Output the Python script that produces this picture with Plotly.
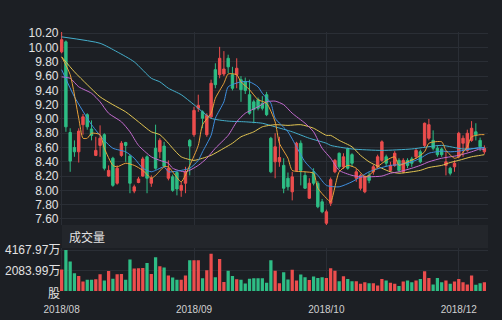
import plotly.graph_objects as go

# ---------------- data ----------------
x_idx = list(range(100))

opens = [9.94, 10.08, 8.81, 8.60, 8.54, 8.92, 9.06, 8.86, 8.49, 8.63,
         8.78, 8.20, 8.45, 8.10, 8.49, 8.67, 8.48, 7.99, 8.11, 8.20,
         8.47, 8.10, 8.59, 8.54, 8.62, 8.17, 8.19, 8.25, 8.00, 8.10,
         8.70, 8.78, 9.15, 9.10, 8.78, 9.03, 9.69, 9.62, 9.63, 9.85,
         9.62, 9.62, 9.55, 9.52, 9.34, 9.24, 9.27, 9.22, 9.34, 8.73,
         8.40, 8.40, 8.35, 8.17, 7.98, 8.28, 8.66, 8.21, 7.89, 8.26,
         8.10, 7.84, 7.54, 7.82, 8.26, 8.52, 8.33, 8.58, 8.50, 8.17,
         8.03, 7.98, 8.21, 8.26, 8.33, 8.42, 8.47, 8.28, 8.35, 8.42,
         8.26, 8.42, 8.44, 8.47, 8.54, 8.63, 8.73, 8.70, 8.59, 8.58,
         8.35, 8.31, 8.33, 8.47, 8.66, 8.56, 8.70, 8.82, 8.70, 8.54]
closes = [10.11, 8.89, 8.41, 8.54, 8.83, 9.03, 8.89, 8.77, 8.56, 8.73,
          8.31, 8.28, 8.07, 8.31, 8.66, 8.63, 8.10, 8.05, 8.16, 8.44,
          8.17, 8.17, 8.31, 8.70, 8.34, 8.31, 8.00, 8.02, 8.07, 8.26,
          8.62, 9.12, 9.19, 9.01, 9.05, 9.50, 9.48, 9.85, 9.70, 9.73,
          9.43, 9.71, 9.41, 9.40, 9.08, 9.13, 9.15, 9.15, 9.06, 8.26,
          8.61, 8.46, 8.03, 8.05, 8.19, 8.66, 8.28, 8.03, 8.10, 8.10,
          7.77, 7.70, 7.70, 8.15, 8.42, 8.33, 8.47, 8.31, 8.38, 8.26,
          8.21, 8.19, 8.14, 8.33, 8.47, 8.68, 8.38, 8.35, 8.52, 8.28,
          8.42, 8.35, 8.38, 8.56, 8.40, 8.94, 8.92, 8.59, 8.50, 8.50,
          8.40, 8.24, 8.38, 8.80, 8.73, 8.80, 8.87, 8.78, 8.61, 8.59]
highs = [10.22, 10.10, 8.87, 8.70, 8.87, 9.07, 9.08, 8.98, 8.75, 8.91,
         8.80, 8.35, 8.47, 8.35, 8.69, 8.68, 8.50, 8.08, 8.19, 8.47,
         8.49, 8.21, 8.92, 8.73, 8.68, 8.42, 8.22, 8.27, 8.12, 8.33,
         8.72, 9.17, 9.34, 9.12, 9.08, 9.55, 9.78, 10.01, 9.95, 9.90,
         9.73, 9.85, 9.60, 9.58, 9.55, 9.27, 9.30, 9.32, 9.38, 8.75,
         8.80, 8.75, 8.45, 8.25, 8.26, 8.68, 8.70, 8.26, 8.17, 8.31,
         8.13, 7.88, 7.73, 8.18, 8.44, 8.53, 8.52, 8.60, 8.52, 8.30,
         8.23, 8.21, 8.25, 8.36, 8.50, 8.70, 8.50, 8.40, 8.55, 8.45,
         8.45, 8.45, 8.47, 8.58, 8.57, 8.95, 9.00, 8.84, 8.62, 8.60,
         8.54, 8.33, 8.42, 8.82, 8.77, 8.85, 8.97, 8.94, 8.74, 8.63]
lows = [9.92, 8.82, 8.26, 8.47, 8.39, 8.78, 8.85, 8.70, 8.48, 8.47,
        8.28, 8.19, 8.05, 8.08, 8.47, 8.40, 7.96, 7.96, 8.10, 8.19,
        7.96, 8.05, 8.29, 8.45, 8.33, 8.14, 7.98, 7.93, 7.91, 7.96,
        8.21, 8.75, 9.10, 8.87, 8.75, 9.00, 9.43, 9.57, 9.60, 9.64,
        9.40, 9.43, 9.24, 9.35, 9.06, 8.94, 9.12, 9.12, 9.04, 8.24,
        8.17, 8.33, 7.96, 8.00, 7.86, 8.26, 8.07, 8.02, 7.88, 8.07,
        7.75, 7.68, 7.51, 7.78, 8.24, 8.30, 8.30, 8.29, 8.33, 8.12,
        8.00, 7.96, 8.10, 8.22, 8.30, 8.40, 8.33, 8.26, 8.33, 8.26,
        8.24, 8.31, 8.33, 8.44, 8.38, 8.60, 8.70, 8.56, 8.47, 8.47,
        8.21, 8.21, 8.26, 8.45, 8.47, 8.54, 8.68, 8.70, 8.55, 8.51]
volumes = [2184, 4168, 3000, 1793, 1532, 978, 1141, 1141, 1206, 1695,
           1076, 2021, 1239, 1695, 1728, 1141, 3195, 2282, 2315, 2347,
           2836, 1728, 3423, 2510, 2380, 1565, 1370, 1141, 1141, 1565,
           3130, 3130, 3130, 1300, 2120, 3780, 1400, 3260, 913, 2054,
           1532, 1206, 1141, 750, 1250, 1300, 1300, 1300, 833, 3130,
           2065, 800, 1900, 1165, 2165, 1066, 1665, 1400, 1130, 1465,
           1332, 1400, 1332, 2300, 2065, 1000, 1500, 1232, 1000, 1000,
           733, 900, 800, 800, 566, 1232, 1066, 833, 733, 500,
           966, 1066, 900, 1066, 1232, 2000, 1332, 666, 1332, 900,
           1066, 733, 966, 1232, 900, 666, 1565, 633, 800, 900]

ma5_x = [0, 2, 4, 5, 6, 7, 9, 10, 12, 13, 15, 17, 19, 21, 22, 24, 25, 26, 28, 30,
         32, 33, 35, 36, 38, 39, 41, 42, 44, 46, 48, 50, 51, 53, 54, 57, 59, 60, 62, 63,
         65, 67, 69, 71, 72, 74, 76, 78, 79, 81, 83, 85, 86, 89, 90, 92, 93, 95, 96, 98, 99]
ma5_y = [9.87, 9.62, 9.01, 8.73, 8.73, 8.80, 8.78, 8.59, 8.35, 8.33, 8.38, 8.35, 8.28, 8.17, 8.21, 8.33, 8.33, 8.26, 8.12, 8.35,
         8.63, 8.92, 9.08, 9.29, 9.50, 9.63, 9.62, 9.52, 9.41, 9.27, 9.22, 8.96, 8.66, 8.45, 8.28, 8.26, 8.24, 8.03, 7.89, 7.84,
         8.26, 8.35, 8.31, 8.19, 8.21, 8.33, 8.42, 8.47, 8.35, 8.40, 8.45, 8.54, 8.66, 8.68, 8.56, 8.45, 8.47, 8.61, 8.75, 8.78, 8.78]

ma10_x = [0, 3, 7, 10, 12, 15, 17, 19, 21, 22, 24, 25, 27, 30, 32, 33, 35, 36, 38, 39,
          42, 44, 46, 47, 49, 50, 53, 55, 57, 60, 62, 65, 68, 70, 72, 75, 77, 79, 82, 84,
          86, 89, 91, 93, 96, 98, 99]
ma10_y = [9.69, 9.31, 8.92, 8.70, 8.59, 8.54, 8.45, 8.31, 8.26, 8.28, 8.33, 8.26, 8.27, 8.31, 8.42, 8.54, 8.77, 9.01, 9.24, 9.45,
          9.52, 9.52, 9.45, 9.36, 9.22, 9.01, 8.82, 8.61, 8.40, 8.21, 8.07, 8.05, 8.12, 8.19, 8.26, 8.32, 8.35, 8.36, 8.40, 8.45,
          8.52, 8.55, 8.54, 8.55, 8.58, 8.60, 8.59]

ma20_x = [0, 2, 4, 7, 9, 11, 14, 16, 18, 21, 23, 25, 26, 29, 32, 34, 36, 39, 41, 43,
          46, 48, 50, 52, 54, 57, 59, 61, 63, 65, 68, 70, 72, 75, 77, 79, 82, 84, 86, 89,
          91, 93, 96, 98, 99]
ma20_y = [9.59, 9.57, 9.45, 9.36, 9.24, 9.08, 8.96, 8.82, 8.63, 8.47, 8.42, 8.38, 8.31, 8.26, 8.35, 8.45, 8.59, 8.77, 8.96, 9.08,
          9.17, 9.24, 9.25, 9.20, 9.08, 8.94, 8.82, 8.59, 8.45, 8.28, 8.21, 8.19, 8.19, 8.20, 8.24, 8.26, 8.31, 8.35, 8.40, 8.45,
          8.47, 8.49, 8.54, 8.58, 8.57]

ma30_x = [0, 3, 6, 9, 12, 15, 18, 21, 23, 25, 26, 28, 31, 33, 35, 38, 40, 42, 45, 47,
          50, 53, 56, 59, 62, 63, 65, 68, 70, 72, 75, 77, 79, 82, 84, 86, 89, 91, 93, 96,
          98, 99]
ma30_y = [9.87, 9.66, 9.48, 9.31, 9.20, 9.10, 8.96, 8.82, 8.78, 8.66, 8.59, 8.47, 8.42, 8.45, 8.49, 8.59, 8.66, 8.75, 8.82, 8.89,
          8.92, 8.91, 8.92, 8.87, 8.77, 8.77, 8.70, 8.61, 8.49, 8.40, 8.31, 8.26, 8.24, 8.26, 8.28, 8.32, 8.35, 8.39, 8.42, 8.47,
          8.49, 8.50]

ma60_x = [0, 9, 13, 17, 21, 23, 25, 28, 31, 35, 39, 43, 47, 50, 54, 58, 62, 63, 68, 75,
          82, 89, 94, 99]
ma60_y = [10.15, 10.06, 9.94, 9.80, 9.57, 9.52, 9.43, 9.34, 9.20, 9.01, 8.97, 8.96, 8.94, 8.89, 8.82, 8.73, 8.66, 8.63, 8.58, 8.56,
          8.58, 8.63, 8.58, 8.60]

x_tick_pos = [0, 31, 62, 93]
x_tick_text = ["2018/08", "2018/09", "2018/10", "2018/12"]
price_ticks = [7.6, 7.8, 8.0, 8.2, 8.4, 8.6, 8.8, 9.0, 9.2, 9.4, 9.6, 9.8, 10.0, 10.2]
vol_ticks = [0, 2083.99, 4167.97]
vol_tick_text = ["股", "2083.99万", "4167.97万"]
vol_title = "成交量"

# ---------------- styling ----------------
W, H = 502, 320
BG = "#1c1f24"
GRID = "#2a2e35"
UP = "#ec4d4d"
DOWN = "#2ebd85"
FONT = "Liberation Sans, Noto Sans CJK SC, sans-serif"


def px_x(p):
    return p / W


def px_y(p):
    return 1 - p / H


x_range = [-0.5, 99.8]
xdom = [px_x(59.5), px_x(487.8)]

fig = go.Figure()

fig.add_trace(go.Candlestick(
    x=x_idx, open=opens, high=highs, low=lows, close=closes,
    increasing=dict(line=dict(color=UP, width=1), fillcolor=UP),
    decreasing=dict(line=dict(color=DOWN, width=1), fillcolor=DOWN),
    whiskerwidth=0, xaxis="x", yaxis="y", showlegend=False, hoverinfo="skip",
))

for xs, ys, col in [
    (ma60_x, ma60_y, "#44aecb"),
    (ma30_x, ma30_y, "#e2c552"),
    (ma20_x, ma20_y, "#c46bd0"),
    (ma10_x, ma10_y, "#3f8fe0"),
    (ma5_x, ma5_y, "#eba23a"),
]:
    fig.add_trace(go.Scatter(x=xs, y=ys, mode="lines",
                             line=dict(color=col, width=1, shape="spline", smoothing=0.6),
                             xaxis="x", yaxis="y", showlegend=False, hoverinfo="skip"))

vol_colors = [UP if c >= o else DOWN for o, c in zip(opens, closes)]
fig.add_trace(go.Bar(x=x_idx, y=volumes, marker=dict(color=vol_colors, line=dict(width=0)),
                     width=0.76, xaxis="x2", yaxis="y2", showlegend=False, hoverinfo="skip"))

annotations = []
for v, t in zip(vol_ticks, vol_tick_text):
    annotations.append(dict(x=px_x(62), xref="paper", y=v, yref="y2", text=t,
                            xanchor="right", yanchor="middle", showarrow=False,
                            yshift=-3 if v == 0 else 0,
                            font=dict(family=FONT, size=12, color="#e2e2e2")))
annotations.append(dict(x=px_x(67), xref="paper", y=px_y(237.5), yref="paper", text=vol_title,
                        xanchor="left", yanchor="middle", showarrow=False,
                        font=dict(family=FONT, size=12, color="#e2e2e2")))

fig.update_layout(
    width=W, height=H,
    margin=dict(l=0, r=0, t=0, b=0, pad=0, autoexpand=False),
    paper_bgcolor=BG, plot_bgcolor=BG,
    bargap=0.2,
    boxgap=0.2,
    showlegend=False,
    xaxis=dict(domain=xdom, range=x_range, anchor="y", showticklabels=False,
               tickvals=x_tick_pos, showgrid=True, gridcolor=GRID, gridwidth=1,
               zeroline=False, showline=False, ticks="", rangeslider=dict(visible=False),
               automargin=False),
    yaxis=dict(domain=[px_y(225), px_y(32)], range=[7.515, 10.218], anchor="x",
               tickvals=price_ticks, ticktext=["%.2f" % v for v in price_ticks],
               showgrid=True, gridcolor=GRID, gridwidth=1, zeroline=False, showline=False,
               ticks="", automargin=False,
               tickfont=dict(family=FONT, size=12, color="#e2e2e2")),
    xaxis2=dict(domain=xdom, range=x_range, anchor="y2",
                tickvals=x_tick_pos, ticktext=x_tick_text,
                showgrid=True, gridcolor=GRID, gridwidth=1, zeroline=False, showline=False,
                ticks="outside", ticklen=9, tickcolor=BG, automargin=False,
                tickfont=dict(family=FONT, size=10, color="#d0d0d0")),
    yaxis2=dict(domain=[px_y(291), px_y(248)], range=[0, 4371], anchor="x2",
                tickvals=vol_ticks, showticklabels=False, automargin=False,
                showgrid=True, gridcolor=GRID, gridwidth=1, zeroline=False, showline=False,
                ticks=""),
    shapes=[dict(type="rect", xref="paper", yref="paper",
                 x0=px_x(62), x1=px_x(488), y0=px_y(248), y1=px_y(225),
                 fillcolor="#23262b", line=dict(width=0), layer="below")],
    annotations=annotations,
)

fig.write_html("out.html")
